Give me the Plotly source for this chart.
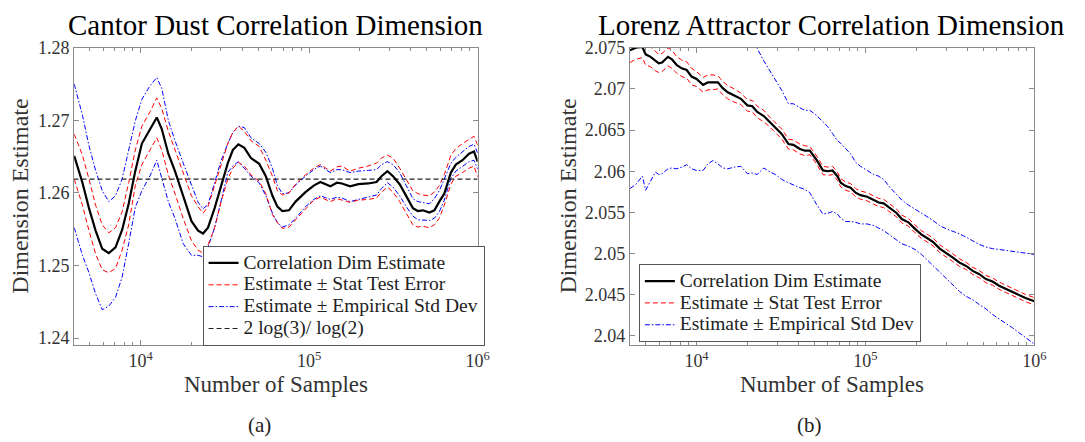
import plotly.graph_objects as go

# ---------------- data: (a) Cantor dust ----------------
samples_a = [4040, 4520, 4940, 5410, 5920, 6480, 7100, 7770, 8500, 9300, 10180, 11400, 12480,
             13360, 14610, 16000, 17900, 20050, 21940, 23480, 25120, 27500, 30090, 32930, 35250,
             38050, 41280, 45180, 50570, 55350, 60590,
             64830, 69380, 75930, 83100, 95150, 106500, 116600, 133600, 146100, 156400, 175100,
             196000, 224400, 251200, 268800, 291500, 314800, 344600, 377200, 412800, 441800,
             472800, 517300, 553500, 592200, 633900, 693700, 742300, 812300, 889200, 951500, 1000000]

est_a = [1.2651, 1.2614, 1.2579, 1.2548, 1.2523, 1.2517, 1.2525, 1.2549, 1.2585, 1.2630, 1.2668,
         1.2688, 1.2704, 1.2688, 1.2654, 1.2630, 1.2596, 1.2561, 1.2548, 1.2544, 1.2552, 1.2579,
         1.2610, 1.2641, 1.2659, 1.2667, 1.2662, 1.2648, 1.2640, 1.2623, 1.2596,
         1.2581, 1.2575, 1.2576, 1.2588, 1.2601, 1.2610, 1.2615, 1.2609, 1.2614, 1.2613, 1.2609,
         1.2612, 1.2613, 1.2615, 1.2623, 1.2630, 1.2623, 1.2612, 1.2596, 1.2579, 1.2575, 1.2576,
         1.2573, 1.2576, 1.2588, 1.2599, 1.2628, 1.2639, 1.2645, 1.2654, 1.2657, 1.2643]

stat_hi_a = [1.2681, 1.2652, 1.2619, 1.2583, 1.2556, 1.2545, 1.2552, 1.2574, 1.2614, 1.2659, 1.2692,
             1.2712, 1.2731, 1.2716, 1.2685, 1.2659, 1.2628, 1.2596, 1.2581, 1.2572, 1.2581, 1.2610,
             1.2639, 1.2668, 1.2683, 1.2692, 1.2685, 1.2672, 1.2664, 1.2645, 1.2623,
             1.2603, 1.2597, 1.2600, 1.2612, 1.2625, 1.2634, 1.2639, 1.2630, 1.2636, 1.2637, 1.2630,
             1.2634, 1.2637, 1.2641, 1.2648, 1.2652, 1.2648, 1.2634, 1.2619, 1.2603, 1.2599, 1.2597,
             1.2596, 1.2601, 1.2610, 1.2625, 1.2652, 1.2661, 1.2668, 1.2674, 1.2678, 1.2666]

stat_lo_a = [1.2619, 1.2583, 1.2548, 1.2516, 1.2494, 1.2490, 1.2496, 1.2521, 1.2556, 1.2610, 1.2639,
             1.2659, 1.2676, 1.2659, 1.2625, 1.2599, 1.2565, 1.2534, 1.2521, 1.2517, 1.2528, 1.2552,
             1.2588, 1.2619, 1.2634, 1.2642, 1.2637, 1.2625, 1.2616, 1.2599, 1.2570,
             1.2559, 1.2551, 1.2553, 1.2563, 1.2579, 1.2590, 1.2594, 1.2588, 1.2592, 1.2590, 1.2587,
             1.2590, 1.2591, 1.2593, 1.2601, 1.2608, 1.2601, 1.2588, 1.2572, 1.2556, 1.2553, 1.2554,
             1.2552, 1.2556, 1.2565, 1.2583, 1.2612, 1.2623, 1.2628, 1.2634, 1.2637, 1.2622]

emp_hi_a = [1.2750, 1.2707, 1.2665, 1.2631, 1.2603, 1.2588, 1.2596, 1.2619, 1.2659, 1.2699, 1.2729,
            1.2748, 1.2759, 1.2744, 1.2700, 1.2672, 1.2641, 1.2610, 1.2587, 1.2578, 1.2584, 1.2614,
            1.2645, 1.2668, 1.2683, 1.2692, 1.2690, 1.2676, 1.2668, 1.2656, 1.2634,
            1.2610, 1.2599, 1.2600, 1.2611, 1.2623, 1.2632, 1.2637, 1.2628, 1.2632, 1.2632, 1.2628,
            1.2630, 1.2631, 1.2632, 1.2639, 1.2643, 1.2639, 1.2628, 1.2610, 1.2592, 1.2588, 1.2587,
            1.2585, 1.2592, 1.2603, 1.2619, 1.2641, 1.2649, 1.2656, 1.2664, 1.2667, 1.2655]

emp_lo_a = [1.2552, 1.2514, 1.2490, 1.2461, 1.2439, 1.2444, 1.2456, 1.2484, 1.2530, 1.2580, 1.2603,
            1.2624, 1.2645, 1.2619, 1.2588, 1.2565, 1.2530, 1.2514, 1.2514, 1.2512, 1.2525, 1.2552,
            1.2592, 1.2628, 1.2637, 1.2643, 1.2634, 1.2623, 1.2614, 1.2596, 1.2572,
            1.2559, 1.2553, 1.2556, 1.2565, 1.2581, 1.2591, 1.2596, 1.2591, 1.2594, 1.2593, 1.2588,
            1.2591, 1.2594, 1.2597, 1.2606, 1.2614, 1.2608, 1.2596, 1.2581, 1.2568, 1.2563, 1.2563,
            1.2562, 1.2565, 1.2574, 1.2590, 1.2620, 1.2630, 1.2637, 1.2643, 1.2645, 1.2633]

theory_x = [4000, 1000000]
theory_y = [1.2619, 1.2619]

# ---------------- data: (b) Lorenz attractor ----------------
samples_b = [4040, 4370, 4780, 5000, 5345, 5715, 5976, 6251, 6775, 7149, 7645, 8177, 8744, 9350,
             10000, 10940, 11700, 12510, 13380, 14300, 15300, 16730, 18300, 20010, 21400, 22880,
             25030, 26770, 29280, 32010, 35010, 37440, 40950, 43800, 46830, 51230, 56020, 59920,
             63790, 68230, 71370, 76360, 81690, 87370, 93480, 102300, 111900, 119700, 128100,
             140200, 153300, 164000, 179500, 196400, 214800, 235000, 251400, 275100, 301000,
             329300, 360200, 394100, 431200, 471800, 516300, 564900, 618000, 676200, 739800,
             809400, 885600, 1000000]

est_b = [2.0747, 2.0750, 2.0751, 2.0742, 2.0739, 2.0734, 2.0731, 2.0732, 2.0739, 2.0736, 2.0729,
         2.0725, 2.0723, 2.0715, 2.0712, 2.0705, 2.0708, 2.0708, 2.0708, 2.0701, 2.0696, 2.0692,
         2.0688, 2.0680, 2.0679, 2.0672, 2.0667, 2.0661, 2.0653, 2.0645, 2.0633, 2.0632, 2.0627,
         2.0625, 2.0625, 2.0614, 2.0601, 2.0600,
         2.0601, 2.0594, 2.0586, 2.0582, 2.0580, 2.0574, 2.0571, 2.0569, 2.0565, 2.0562, 2.0561,
         2.0555, 2.0549, 2.0542, 2.0538, 2.0530, 2.0523, 2.0518, 2.0514, 2.0506, 2.0501, 2.0495,
         2.0489, 2.0485, 2.0479, 2.0475, 2.0469, 2.0466, 2.0461, 2.0457, 2.0454, 2.0450, 2.0446,
         2.0442]

stat_err_b = [0.0015, 0.0014, 0.0013, 0.0013, 0.0012, 0.0012, 0.0011, 0.0011, 0.0011, 0.0011,
              0.0010, 0.0010, 0.0010, 0.0010, 0.0009, 0.0009, 0.0009, 0.0009, 0.0008, 0.0008,
              0.0008, 0.0008, 0.0007, 0.0007, 0.0007, 0.0007, 0.0007, 0.0006, 0.0006, 0.0006,
              0.0006, 0.0006, 0.0006, 0.0006, 0.0005, 0.0005, 0.0005, 0.0005,
              0.0005, 0.0005, 0.0005, 0.0005, 0.0005, 0.0005, 0.0005, 0.0005, 0.0005, 0.0005,
              0.0005, 0.0005, 0.00047, 0.00047, 0.00047, 0.00047, 0.00047, 0.00047, 0.00047,
              0.00047, 0.00047, 0.00047, 0.00047, 0.00044, 0.00044, 0.00044, 0.00044, 0.00044,
              0.00044, 0.00044, 0.00044, 0.00044, 0.00044, 0.00044]

emp_hi_b = [None] * 24 + [
    2.0757, 2.0749, 2.0734, 2.0724, 2.0710, 2.0698, 2.0682, 2.0682, 2.0677, 2.0674, 2.0674,
    2.0668, 2.0660, 2.0654,
    2.0646, 2.0637, 2.0634, 2.0628, 2.0621, 2.0611, 2.0606, 2.0601, 2.0596, 2.0594, 2.0590,
    2.0580, 2.0571, 2.0565, 2.0559, 2.0554, 2.0550, 2.0544, 2.0540, 2.0534, 2.0530, 2.0527,
    2.0524, 2.0520, 2.0515, 2.0511, 2.0508, 2.0506, 2.0505, 2.0504, 2.0503, 2.0502, 2.0501,
    2.0499]

emp_lo_b = [2.0579, 2.0584, 2.0594, 2.0577, 2.0588, 2.0599, 2.0596, 2.0597, 2.0603, 2.0604, 2.0603,
            2.0605, 2.0608, 2.0603, 2.0601, 2.0601, 2.0609, 2.0613, 2.0609, 2.0604, 2.0603, 2.0605,
            2.0606, 2.0597, 2.0598, 2.0596, 2.0604, 2.0600, 2.0596, 2.0590, 2.0586, 2.0583, 2.0580,
            2.0578, 2.0574, 2.0560, 2.0548, 2.0549,
            2.0551, 2.0548, 2.0543, 2.0539, 2.0539, 2.0538, 2.0536, 2.0536, 2.0534, 2.0531, 2.0528,
            2.0522, 2.0516, 2.0512, 2.0509, 2.0505, 2.0499, 2.0491, 2.0485, 2.0477, 2.0470, 2.0462,
            2.0454, 2.0448, 2.0444, 2.0438, 2.0433, 2.0426, 2.0421, 2.0416, 2.0410, 2.0404, 2.0398,
            2.0390]

stat_hi_b = [e + s for e, s in zip(est_b, stat_err_b)]
stat_lo_b = [e - s for e, s in zip(est_b, stat_err_b)]

# ---------------- labels ----------------
title_a = "Cantor Dust Correlation Dimension"
title_b = "Lorenz Attractor Correlation Dimension"
ytitle = "Dimension Estimate"
xtitle = "Number of Samples"
name_est = "Correlation Dim Estimate"
name_stat = "Estimate ± Stat Test Error"
name_emp = "Estimate ± Empirical Std Dev"
name_theory = "2 log(3)/ log(2)"
yticks_a = [1.24, 1.25, 1.26, 1.27, 1.28]
yticks_b = [2.04, 2.045, 2.05, 2.055, 2.06, 2.065, 2.07, 2.075]
xticks = [10000, 100000, 1000000]
xticktext = ["10<sup>4</sup>", "10<sup>5</sup>", "10<sup>6</sup>"]

FONT = "Liberation Serif, DejaVu Serif, serif"
W, H = 1085, 442
RED = "#ff0000"
BLUE = "#0000ff"
RED_DASH = "5px,3px"
BLUE_DASH = "5px,2px,1.5px,2px"


def leg_label(s):
    return '<span style="font-size:19.5px">' + s + "</span>"


fig = go.Figure()

def add_panel(xs, est, shi, slo, ehi, elo, xa, ya, leg):
    fig.add_trace(go.Scatter(x=xs, y=ehi, mode="lines", name=leg_label(name_emp), legend=leg,
                             legendrank=3, line=dict(color=BLUE, width=1, dash=BLUE_DASH),
                             xaxis=xa, yaxis=ya))
    fig.add_trace(go.Scatter(x=xs, y=elo, mode="lines", name=leg_label(name_emp), legend=leg,
                             showlegend=False, line=dict(color=BLUE, width=1, dash=BLUE_DASH),
                             xaxis=xa, yaxis=ya))
    fig.add_trace(go.Scatter(x=xs, y=shi, mode="lines", name=leg_label(name_stat), legend=leg,
                             legendrank=2, line=dict(color=RED, width=1, dash=RED_DASH),
                             xaxis=xa, yaxis=ya))
    fig.add_trace(go.Scatter(x=xs, y=slo, mode="lines", name=leg_label(name_stat), legend=leg,
                             showlegend=False, line=dict(color=RED, width=1, dash=RED_DASH),
                             xaxis=xa, yaxis=ya))

add_panel(samples_a, est_a, stat_hi_a, stat_lo_a, emp_hi_a, emp_lo_a, "x", "y", "legend")
fig.add_trace(go.Scatter(x=theory_x, y=theory_y, mode="lines", name=leg_label(name_theory),
                         legend="legend", legendrank=4,
                         line=dict(color="#222222", width=1.1, dash="5px,3px"), xaxis="x", yaxis="y"))
fig.add_trace(go.Scatter(x=samples_a, y=est_a, mode="lines", name=leg_label(name_est), legend="legend",
                         legendrank=1, line=dict(color="black", width=2.2), xaxis="x", yaxis="y"))

add_panel(samples_b, est_b, stat_hi_b, stat_lo_b, emp_hi_b, emp_lo_b, "x2", "y2", "legend2")
fig.add_trace(go.Scatter(x=samples_b, y=est_b, mode="lines", name=leg_label(name_est),
                         legend="legend2", legendrank=1, line=dict(color="black", width=2.2),
                         xaxis="x2", yaxis="y2"))

minor_vals = [m * 10 ** e for e in (3, 4, 5) for m in range(2, 10)]

def xaxis_cfg(domain):
    return dict(domain=domain, type="log", range=[3.606, 6.0], showline=True, linecolor="#8a8a8a",
                linewidth=1, mirror="allticks", ticks="inside", ticklen=5, tickcolor="#8a8a8a",
                tickvals=xticks, ticktext=xticktext, showgrid=False, zeroline=False,
                tickfont=dict(family=FONT, size=18, color="#333333"),
                minor=dict(tickvals=minor_vals, ticks="inside", ticklen=3, tickcolor="#8a8a8a",
                           showgrid=False))

def yaxis_cfg(domain, rng, ticks, anchor):
    return dict(domain=domain, range=rng, showline=True, linecolor="#8a8a8a", linewidth=1,
                mirror="ticks", ticks="inside", ticklen=5, tickcolor="#8a8a8a", tickvals=ticks,
                ticktext=[("%g" % t) for t in ticks], showgrid=False, zeroline=False, anchor=anchor,
                tickfont=dict(family=FONT, size=18, color="#333333"))

ydom = [1 - 345.5 / H, 1 - 39 / H]
dom_a = [75 / W, 483 / W]
dom_b = [637 / W, 1046 / W]

legend_common = dict(bgcolor="white", bordercolor="#555555", borderwidth=1,
                     font=dict(family=FONT, size=14.5, color="#222222"), tracegroupgap=0,
                     itemwidth=30, traceorder="normal")

fig.update_layout(
    width=W, height=H, margin=dict(l=0, r=0, t=0, b=0),
    paper_bgcolor="white", plot_bgcolor="white",
    xaxis=xaxis_cfg(dom_a) | dict(anchor="y"),
    yaxis=yaxis_cfg(ydom, [1.2391, 1.28], yticks_a, "x"),
    xaxis2=xaxis_cfg(dom_b) | dict(anchor="y2"),
    yaxis2=yaxis_cfg(ydom, [2.03895, 2.075], yticks_b, "x2"),
    legend=legend_common | dict(x=490 / W, y=1 - 347 / H, xanchor="right", yanchor="bottom"),
    legend2=legend_common | dict(x=646 / W, y=1 - 343 / H, xanchor="left", yanchor="bottom"),
    showlegend=True,
)

ann = []
for cx, t in ((279, title_a), (841, title_b)):
    ann.append(dict(text=t, x=cx / W, y=1 - 16 / H, xref="paper", yref="paper", showarrow=False,
                    xanchor="center", yanchor="middle", font=dict(family=FONT, size=29, color="black")))
for cx in (279, 841):
    ann.append(dict(text=xtitle, x=cx / W, y=1 - 387 / H, xref="paper", yref="paper", showarrow=False,
                    xanchor="center", yanchor="middle", font=dict(family=FONT, size=23, color="#333333")))
for cx in (20, 574):
    ann.append(dict(text=ytitle, x=cx / W, y=1 - 192 / H, xref="paper", yref="paper", showarrow=False,
                    textangle=-90, xanchor="center", yanchor="middle",
                    font=dict(family=FONT, size=24, color="#333333")))
for cx, t in ((262, "(a)"), (819, "(b)")):
    ann.append(dict(text=t, x=cx / W, y=1 - 429 / H, xref="paper", yref="paper", showarrow=False,
                    xanchor="center", yanchor="middle", font=dict(family=FONT, size=21, color="#222222")))
fig.update_layout(annotations=ann)

fig.write_html("out.html", config={"displayModeBar": False},
               post_script="document.body.style.margin='0';document.body.style.overflow='hidden';")
